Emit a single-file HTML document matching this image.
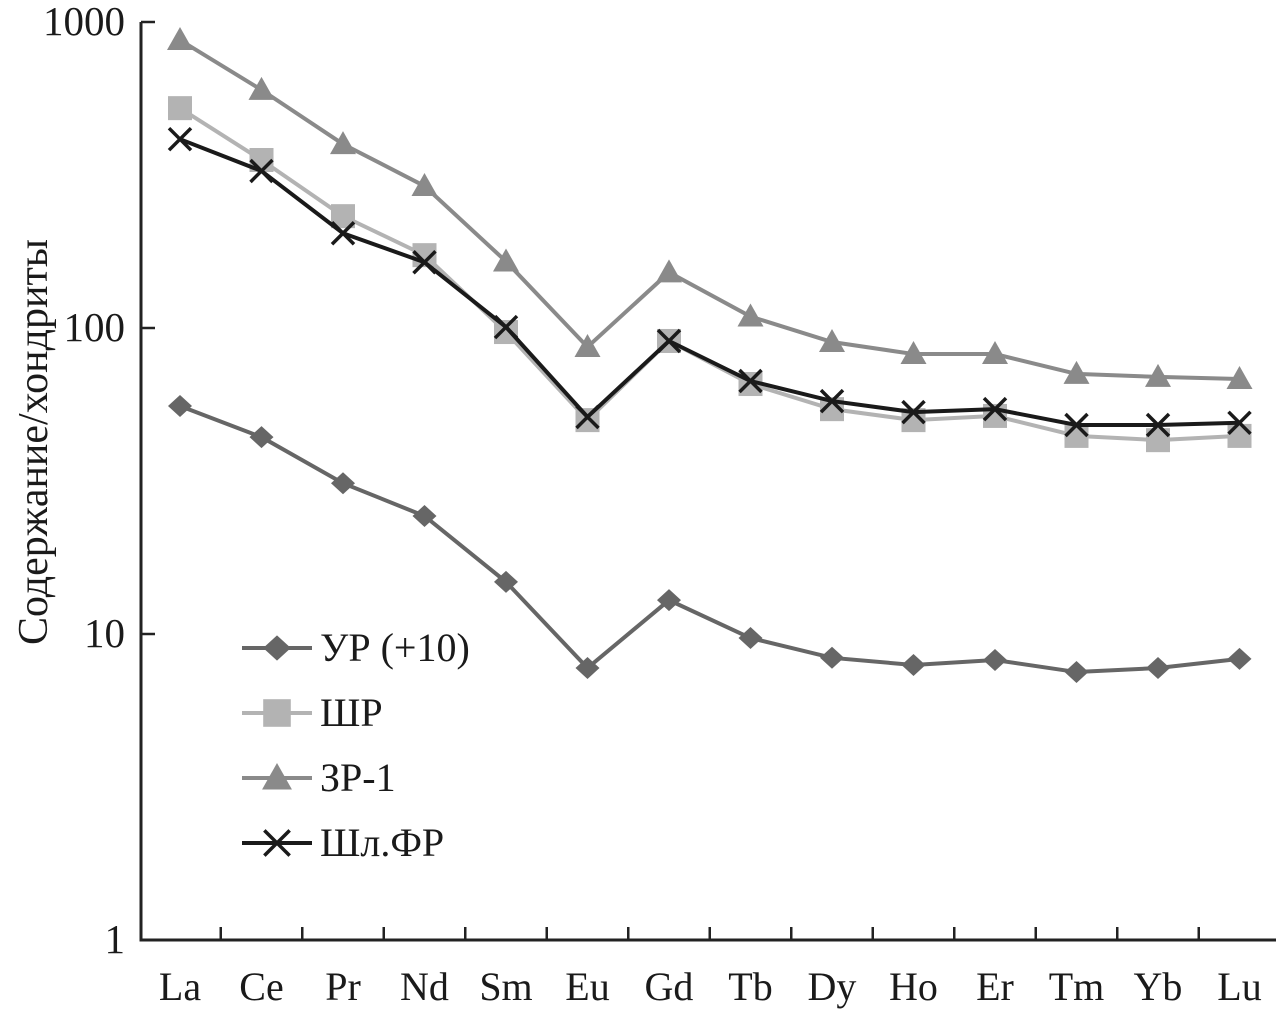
<!DOCTYPE html>
<html><head><meta charset="utf-8"><style>
body{margin:0;background:#fff}
svg text{font-family:"Liberation Serif",serif;fill:#1a1a1a}
</style></head><body>
<svg id="c" width="1280" height="1012" viewBox="0 0 1280 1012"></svg>
<script>
const categories=["La","Ce","Pr","Nd","Sm","Eu","Gd","Tb","Dy","Ho","Er","Tm","Yb","Lu"];
const urValues=[55.6,44,31.1,24.3,14.8,7.74,12.9,9.7,8.36,7.92,8.22,7.51,7.74,8.29];
const shrValues=[523,354,232,173,97,50,90.7,65.6,54.3,50,51.6,44.4,43,44.4];
const zr1Values=[873,600,399,291,165,86.7,152,109,90,82.2,82.2,70.8,69.2,68.1];
const shlfrValues=[414,326,204,164,100.7,51.2,90.7,67.1,57.7,53.1,54.3,48.2,48.2,49];
const yTicks=[1,10,100,1000];
const yTickLabels=["1","10","100","1000"];
const seriesNames=["УР (+10)","ШР","ЗР-1","Шл.ФР"];

const NS="http://www.w3.org/2000/svg";
const svg=document.getElementById("c");
function el(t,a,p){const e=document.createElementNS(NS,t);for(const k in a)e.setAttribute(k,a[k]);(p||svg).appendChild(e);return e;}
const x0=141,yTop=22,yBot=940,xRight=1276;
const xS=i=>180+i*81.5;
const yS=v=>yBot-(Math.log10(v))*(yBot-yTop)/3;

const ax=el("path",{d:`M${x0} ${yTop}V${yBot}H${xRight}`,stroke:"#222","stroke-width":3,fill:"none"});


for(let i=0;i<categories.length;i++){
  const tx=xS(i)+40.75;
  if(i<categories.length-1){
    const t=el("line",{x1:tx,x2:tx,y1:yBot,y2:yBot-13,stroke:"#222","stroke-width":2.5});
    
    
  }
  const l=el("text",{x:xS(i),y:1000,"text-anchor":"middle","font-size":40});
  l.textContent=categories[i];
  
  
}
yTicks.forEach((v,i)=>{
  const t=el("line",{x1:x0,x2:x0+14,y1:yS(v),y2:yS(v),stroke:"#222","stroke-width":2.5});
  
  
  const l=el("text",{x:125,y:yS(v)+13,"text-anchor":"end","font-size":41});
  l.textContent=yTickLabels[i];
  
  
});
const yt=el("text",{x:0,y:0,"text-anchor":"middle","font-size":42,transform:"translate(47,442) rotate(-90)"});
yt.textContent="Содержание/хондриты";



function marker(type,x,y,color,g,s){
  s=s||1;
  if(type==="diamond") return el("path",{d:`M${x} ${y-11*s}L${x+12*s} ${y}L${x} ${y+11*s}L${x-12*s} ${y}Z`,fill:color},g);
  if(type==="square") return el("rect",{x:x-12*s,y:y-12*s,width:24*s,height:24*s,fill:color},g);
  if(type==="triangle") return el("path",{d:`M${x} ${y-13*s}L${x+13*s} ${y+10*s}L${x-13*s} ${y+10*s}Z`,fill:color},g);
  return el("path",{d:`M${x-11*s} ${y-11*s}L${x+11*s} ${y+11*s}M${x+11*s} ${y-11*s}L${x-11*s} ${y+11*s}`,stroke:color,"stroke-width":3.5},g);
}
const series=[
 {vals:urValues,color:"#666",m:"diamond",name:"series-ur"},
 {vals:shrValues,color:"#b3b3b3",m:"square",name:"series-shr"},
 {vals:zr1Values,color:"#8a8a8a",m:"triangle",name:"series-zr1"},
 {vals:shlfrValues,color:"#1a1a1a",m:"x",name:"series-shlfr"}
];
series.forEach((s,si)=>{
  const g=el("g",{});
  
  
  el("polyline",{points:s.vals.map((v,i)=>xS(i)+","+yS(v)).join(" "),fill:"none",stroke:s.color,"stroke-width":4},g);
  s.vals.forEach((v,i)=>{
    const m=marker(s.m,xS(i),yS(v),s.color,g);
    
    
  });
  const ly=[648,713,778,843][si];
  const lg=el("g",{});
  
  
  el("line",{x1:242,x2:312,y1:ly,y2:ly,stroke:s.color,"stroke-width":4},lg);
  marker(s.m,277,ly,s.color,lg,1.15);
  const t=el("text",{x:320,y:ly+13,"font-size":40},lg);
  t.textContent=seriesNames[si];
});
</script>
</body></html>
